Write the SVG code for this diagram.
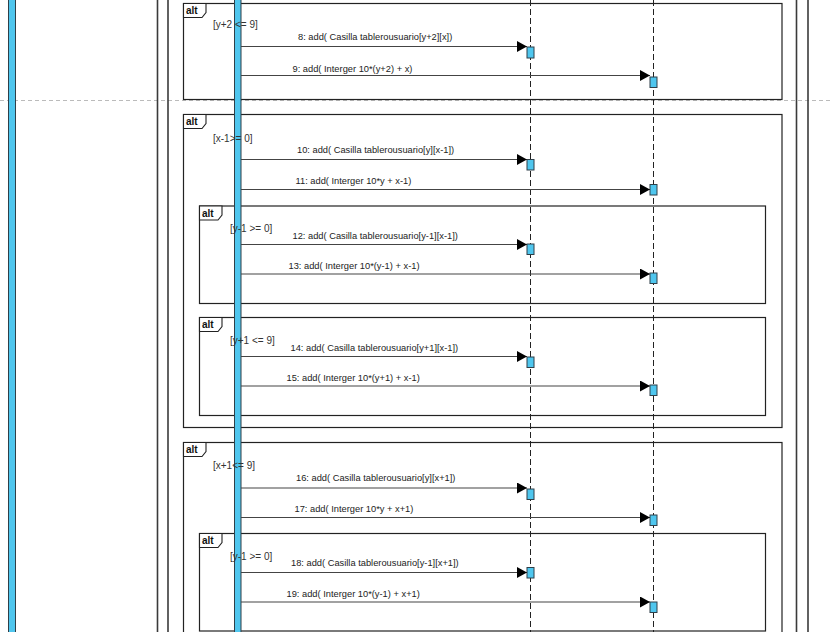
<svg xmlns="http://www.w3.org/2000/svg" width="832" height="632" viewBox="0 0 832 632">
<style>
.frame{fill:none;stroke:#222;stroke-width:1.2}
.tab{fill:#fff;stroke:#222;stroke-width:1.1}
.alt{font-family:"Liberation Sans",Arial,sans-serif;font-size:10px;font-weight:bold;fill:#111}
.guard{font-family:"Liberation Sans",Arial,sans-serif;font-size:10px;fill:#333}
.msg{font-family:"Liberation Sans",Arial,sans-serif;font-size:9.3px;fill:#222}
.border{stroke:#3a3a3a;stroke-width:1.6;fill:none}
.life{stroke:#222;stroke-width:1;stroke-dasharray:6 3;fill:none}
.act{fill:#4FC6EE;stroke:#2f3f48;stroke-width:1}
.line{stroke:#444;stroke-width:1.2;fill:none}
.head{fill:#000}
</style>
<defs>
<marker id="arr" viewBox="0 0 10 11" refX="10" refY="5.5" markerWidth="10" markerHeight="11" markerUnits="userSpaceOnUse" orient="auto">
<path d="M0,0 L10,5.5 L0,11 Z" class="head"/>
</marker>
</defs>
<rect x="0" y="0" width="832" height="632" fill="#fff"/>
<line x1="0" y1="100.5" x2="832" y2="100.5" stroke="#bbb" stroke-width="1" stroke-dasharray="4 3"/>
<g id="left-actor-bar"><rect x="8.5" y="-2" width="7" height="636" class="act"/></g>
<g id="outer-frames">
<line x1="157.5" y1="0" x2="157.5" y2="632" class="border"/>
<line x1="168" y1="0" x2="168" y2="632" class="border"/>
<line x1="796.5" y1="0" x2="796.5" y2="632" class="border"/>
<line x1="808" y1="0" x2="808" y2="632" class="border"/>
</g>
<g id="lifelines">
<line x1="530.5" y1="0" x2="530.5" y2="632" class="life"/>
<line x1="653.5" y1="0" x2="653.5" y2="632" class="life"/>
</g>
<g id="alt1">
<rect x="183.5" y="3.5" width="598.5" height="96" class="frame"/>
<path d="M183.5,3.5 H206 V12.5 L202,17.5 H183.5 Z" class="tab"/>
<text x="186" y="14" class="alt">alt</text>
</g>
<g id="alt2">
<rect x="183.5" y="114.5" width="598.5" height="313" class="frame"/>
<path d="M183.5,114.5 H206 V123.5 L202,128.5 H183.5 Z" class="tab"/>
<text x="186" y="125" class="alt">alt</text>
</g>
<g id="alt2a">
<rect x="199.5" y="206" width="566" height="97.5" class="frame"/>
<path d="M199.5,206 H222 V215 L218,220 H199.5 Z" class="tab"/>
<text x="202" y="216.5" class="alt">alt</text>
</g>
<g id="alt2b">
<rect x="199.5" y="317.5" width="566" height="98" class="frame"/>
<path d="M199.5,317.5 H222 V326.5 L218,331.5 H199.5 Z" class="tab"/>
<text x="202" y="328" class="alt">alt</text>
</g>
<g id="alt3">
<rect x="183.5" y="442.5" width="598.5" height="220" class="frame"/>
<path d="M183.5,442.5 H206 V451.5 L202,456.5 H183.5 Z" class="tab"/>
<text x="186" y="453" class="alt">alt</text>
</g>
<g id="alt3a">
<rect x="199.5" y="533.5" width="566" height="97.5" class="frame"/>
<path d="M199.5,533.5 H222 V542.5 L218,547.5 H199.5 Z" class="tab"/>
<text x="202" y="544" class="alt">alt</text>
</g>
<g id="main-activation"><rect x="234.5" y="-2" width="6.5" height="636" class="act"/></g>
<g id="activations">
<rect x="527" y="47" width="7" height="11" class="act"/>
<rect x="650" y="77" width="7" height="10.5" class="act"/>
<rect x="527" y="159.5" width="7" height="10.5" class="act"/>
<rect x="650" y="184.5" width="7" height="10.5" class="act"/>
<rect x="527" y="244" width="7" height="10.5" class="act"/>
<rect x="650" y="273" width="7" height="10.5" class="act"/>
<rect x="527" y="357" width="7" height="10.5" class="act"/>
<rect x="650" y="385" width="7" height="10.5" class="act"/>
<rect x="527" y="489" width="7" height="10.5" class="act"/>
<rect x="650" y="515" width="7" height="10.5" class="act"/>
<rect x="527" y="567.5" width="7" height="10.5" class="act"/>
<rect x="650" y="602" width="7" height="10.5" class="act"/>
</g>
<g id="connectors">
<line x1="241" y1="46.5" x2="527" y2="46.5" class="line" marker-end="url(#arr)"/>
<line x1="241" y1="75.5" x2="650" y2="75.5" class="line" marker-end="url(#arr)"/>
<line x1="241" y1="159.5" x2="527" y2="159.5" class="line" marker-end="url(#arr)"/>
<line x1="241" y1="189.5" x2="650" y2="189.5" class="line" marker-end="url(#arr)"/>
<line x1="241" y1="244.5" x2="527" y2="244.5" class="line" marker-end="url(#arr)"/>
<line x1="241" y1="274" x2="650" y2="274" class="line" marker-end="url(#arr)"/>
<line x1="241" y1="356.5" x2="527" y2="356.5" class="line" marker-end="url(#arr)"/>
<line x1="241" y1="386" x2="650" y2="386" class="line" marker-end="url(#arr)"/>
<line x1="241" y1="488" x2="527" y2="488" class="line" marker-end="url(#arr)"/>
<line x1="241" y1="517.5" x2="650" y2="517.5" class="line" marker-end="url(#arr)"/>
<line x1="241" y1="572.5" x2="527" y2="572.5" class="line" marker-end="url(#arr)"/>
<line x1="241" y1="602" x2="650" y2="602" class="line" marker-end="url(#arr)"/>
</g>
<g id="guards">
<text x="213" y="28" class="guard">[y+2 &lt;= 9]</text>
<text x="213" y="142" class="guard">[x-1&gt;= 0]</text>
<text x="230" y="231.5" class="guard">[y-1 &gt;= 0]</text>
<text x="230" y="344" class="guard">[y+1 &lt;= 9]</text>
<text x="213" y="469" class="guard">[x+1&lt;= 9]</text>
<text x="230" y="560" class="guard">[y-1 &gt;= 0]</text>
</g>
<g id="message-labels">
<text x="298" y="40" class="msg">8: add( Casilla tablerousuario[y+2][x])</text>
<text x="292.5" y="71.5" class="msg">9: add( Interger 10*(y+2) + x)</text>
<text x="297" y="153" class="msg">10: add( Casilla tablerousuario[y][x-1])</text>
<text x="295.5" y="184" class="msg">11: add( Interger 10*y + x-1)</text>
<text x="292.5" y="238.5" class="msg">12: add( Casilla tablerousuario[y-1][x-1])</text>
<text x="288.5" y="269" class="msg">13: add( Interger 10*(y-1) + x-1)</text>
<text x="290.5" y="351" class="msg">14: add( Casilla tablerousuario[y+1][x-1])</text>
<text x="286.5" y="381" class="msg">15: add( Interger 10*(y+1) + x-1)</text>
<text x="296" y="481" class="msg">16: add( Casilla tablerousuario[y][x+1])</text>
<text x="294.5" y="512" class="msg">17: add( Interger 10*y + x+1)</text>
<text x="291" y="566" class="msg">18: add( Casilla tablerousuario[y-1][x+1])</text>
<text x="286.5" y="597" class="msg">19: add( Interger 10*(y-1) + x+1)</text>
</g>
</svg>
